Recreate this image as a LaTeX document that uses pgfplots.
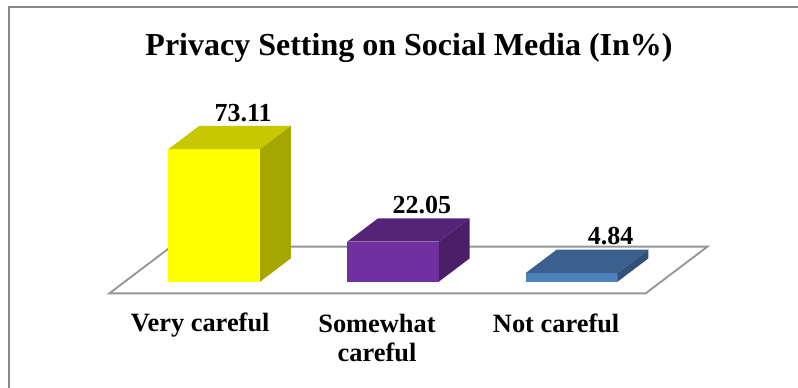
\documentclass[border=0pt]{standalone}
\usepackage{pgfplots}
\pgfplotsset{compat=1.18}
\usepackage{fontspec}
\setmainfont{Liberation Serif}
\definecolor{yfront}{RGB}{255,255,0}
\definecolor{ytop}{RGB}{200,200,0}
\definecolor{yside}{RGB}{166,166,0}
\definecolor{pfront}{RGB}{112,48,160}
\definecolor{ptop}{RGB}{84,36,120}
\definecolor{pside}{RGB}{74,30,105}
\definecolor{bfront}{RGB}{79,129,189}
\definecolor{btop}{RGB}{59,96,142}
\definecolor{bside}{RGB}{50,80,120}
\definecolor{floorgray}{RGB}{150,150,150}
\definecolor{framegray}{RGB}{136,136,136}
\begin{document}
\begin{tikzpicture}
\begin{axis}[
  scale only axis,
  width=598.5pt, height=291pt,
  xmin=-1.198, xmax=3.266,
  ymin=-58.66, ymax=155.46,
  hide axis,
  clip=false,
]
\coordinate (bl) at (rel axis cs:0,0);
\coordinate (tr) at (rel axis cs:1,1);
% frame
\draw[framegray, line width=1.5pt] (rel axis cs:0.01165,0) -- (rel axis cs:0.01165,0.9827) -- (rel axis cs:1,0.9827);
% floor
\addplot[fill=white, draw=floorgray, line width=1.4pt] coordinates {(-0.5865,-6.45) (2.4135,-6.45) (2.7595,19.35) (-0.2405,19.35)} -- cycle;
% yellow bar: Very careful, 73.11
\addplot[fill=yfront, draw=none] coordinates {(-0.2565,0) (0.2565,0) (0.2565,73.11) (-0.2565,73.11)} -- cycle;
\addplot[fill=ytop, draw=none] coordinates {(-0.2565,73.11) (0.2565,73.11) (0.4295,86.01) (-0.0835,86.01)} -- cycle;
\addplot[fill=yside, draw=none] coordinates {(0.2565,0) (0.4295,12.9) (0.4295,86.01) (0.2565,73.11)} -- cycle;
% purple bar: Somewhat careful, 22.05
\addplot[fill=pfront, draw=none] coordinates {(0.7435,0) (1.2565,0) (1.2565,22.05) (0.7435,22.05)} -- cycle;
\addplot[fill=ptop, draw=none] coordinates {(0.7435,22.05) (1.2565,22.05) (1.4295,34.95) (0.9165,34.95)} -- cycle;
\addplot[fill=pside, draw=none] coordinates {(1.2565,0) (1.4295,12.9) (1.4295,34.95) (1.2565,22.05)} -- cycle;
% blue bar: Not careful, 4.84
\addplot[fill=bfront, draw=none] coordinates {(1.7435,0) (2.2565,0) (2.2565,4.84) (1.7435,4.84)} -- cycle;
\addplot[fill=btop, draw=none] coordinates {(1.7435,4.84) (2.2565,4.84) (2.4295,17.74) (1.9165,17.74)} -- cycle;
\addplot[fill=bside, draw=none] coordinates {(2.2565,0) (2.4295,12.9) (2.4295,17.74) (2.2565,4.84)} -- cycle;
% value labels
\addplot[draw=none, mark=none,
  nodes near coords, point meta=y,
  nodes near coords style={anchor=base, yshift=21pt, font=\fontsize{19.5}{22}\selectfont\bfseries, text=black,
    /pgf/number format/.cd, fixed, fixed zerofill, precision=2, assume math mode=true},
] coordinates {(0.162,73.11) (1.162,22.05) (2.218,4.84)};
% title
\node[anchor=base, font=\fontsize{24}{28}\selectfont\bfseries] at (axis cs:1.09,125.1) {Privacy Setting on Social Media (In\%)};
% category labels
\node[anchor=base, font=\fontsize{19.8}{21.75}\selectfont\bfseries] at (axis cs:-0.078,-27.6) {Very careful};
\node[anchor=base, align=center, font=\fontsize{19.8}{21.75}\selectfont\bfseries] at (axis cs:0.911,-44.15) {Somewhat\\careful};
\node[anchor=base, font=\fontsize{19.8}{21.75}\selectfont\bfseries] at (axis cs:1.913,-28.2) {Not careful};
\end{axis}
\pgfresetboundingbox
\useasboundingbox (bl) rectangle (tr);
\end{tikzpicture}
\end{document}
